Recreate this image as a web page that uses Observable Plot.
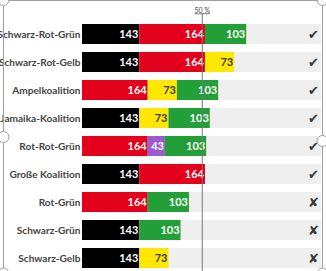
<!DOCTYPE html>
<html>
<head>
<meta charset="utf-8">
<script src="https://cdn.jsdelivr.net/npm/d3@7"></script>
<script src="https://cdn.jsdelivr.net/npm/@observablehq/plot@0.6"></script>
<style>
  html, body { margin: 0; padding: 0; background: #fff; overflow: hidden; }
  #wrap { position: relative; width: 326px; height: 271px; overflow: hidden; }
  #chart svg { display: block; }
  .fifty text { text-decoration: underline; }
  #deco { position: absolute; left: 0; top: 0; pointer-events: none; }
</style>
</head>
<body>
<div id="wrap">
  <div id="chart"></div>
  <svg id="deco" width="326" height="271">
    <rect x="3.5" y="0.5" width="319" height="280" fill="none" stroke="#a0a0a0" stroke-width="1"></rect>
    <circle cx="3.5" cy="0.5" r="5" fill="#fff" stroke="#a0a0a0"></circle>
    <circle cx="322.5" cy="0.5" r="5" fill="#fff" stroke="#a0a0a0"></circle>
    <circle cx="3.5" cy="137" r="5.5" fill="#fff" stroke="#a0a0a0"></circle>
    <circle cx="322.5" cy="141" r="5.5" fill="#fff" stroke="#a0a0a0"></circle>
    <circle cx="3.5" cy="273" r="5" fill="#fff" stroke="#a0a0a0"></circle>
    <circle cx="322.5" cy="273" r="5" fill="#fff" stroke="#a0a0a0"></circle>
  </svg>
</div>
<script>
// ---- data ----
const coalitions = [
  "Schwarz-Rot-Grün", "Schwarz-Rot-Gelb", "Ampelkoalition", "Jamaika-Koalition",
  "Rot-Rot-Grün", "Große Koalition", "Rot-Grün", "Schwarz-Grün", "Schwarz-Gelb"
];
const partyNames = ["CDU/CSU", "SPD", "FDP", "Grüne", "Linke"];
const partySeats = [143, 164, 73, 103, 43];
const coalitionParties = [
  ["CDU/CSU", "SPD", "Grüne"],
  ["CDU/CSU", "SPD", "FDP"],
  ["SPD", "FDP", "Grüne"],
  ["CDU/CSU", "FDP", "Grüne"],
  ["SPD", "Linke", "Grüne"],
  ["CDU/CSU", "SPD"],
  ["SPD", "Grüne"],
  ["CDU/CSU", "Grüne"],
  ["CDU/CSU", "FDP"]
];
const hasMajority = [true, true, true, true, true, true, false, false, false];
const totalSeats = 598;
const majoritySeats = 299;
const majorityLabel = "50 %";

// styles (kept separate from data)
const partyColors = ["#000000", "#e2001a", "#ffe800", "#22a037", "#9a5bd3"];

// ---- build table (stacked start/end in seat units) ----
const segments = [];
coalitions.forEach((c, i) => {
  let acc = 0;
  coalitionParties[i].forEach(p => {
    const s = partySeats[partyNames.indexOf(p)];
    segments.push({coalition: c, party: p, seats: s, start: acc, end: acc + s});
    acc += s;
  });
});
const rows = coalitions.map((c, i) => ({coalition: c, ok: hasMajority[i]}));

const chart = Plot.plot({
  width: 326,
  height: 279,
  marginLeft: 82,
  marginRight: 4.5,
  marginTop: 14,
  marginBottom: 0,
  style: {fontFamily: "Lato, 'DejaVu Sans', sans-serif", fontSize: "11px", background: "transparent"},
  x: {domain: [0, totalSeats], axis: null},
  y: {domain: coalitions, paddingInner: 0.273, paddingOuter: 0.21, label: null},
  color: {domain: partyNames, range: partyColors},
  marks: [
    Plot.barX(rows, {y: "coalition", x1: 0, x2: totalSeats, fill: "#efefef"}),
    Plot.barX(segments, {y: "coalition", x1: "start", x2: "end", fill: "party"}),
    Plot.text(segments, {
      filter: d => d.party !== "FDP",
      y: "coalition", x: "end", text: d => String(d.seats),
      textAnchor: "end", dx: -1.5, fill: "white", fontWeight: "bold", fontSize: 11
    }),
    Plot.text(segments, {
      filter: d => d.party === "FDP",
      y: "coalition", x: "end", text: d => String(d.seats),
      textAnchor: "end", dx: -1.5, fill: "#3a3a3a", fontWeight: "bold", fontSize: 11
    }),
    Plot.ruleX([majoritySeats], {stroke: "#777", strokeWidth: 1}),
    Plot.text([majoritySeats], {
      x: d => d, frameAnchor: "top", lineAnchor: "bottom", dy: -2,
      text: () => majorityLabel, fontSize: 7, fill: "#444", className: "fifty"
    }),
    Plot.text(rows, {
      y: "coalition", frameAnchor: "right", textAnchor: "end", dx: -3,
      text: d => d.ok ? "✔" : "✘", fill: "#3a3a3a", fontSize: 13,
      fontFamily: "DejaVu Sans"
    }),
    Plot.axisY({tickSize: 0, tickPadding: 2, fontWeight: "bold", fontSize: 10.1, color: "#444"})
  ]
});
document.getElementById("chart").appendChild(chart);
</script>
</body>
</html>
